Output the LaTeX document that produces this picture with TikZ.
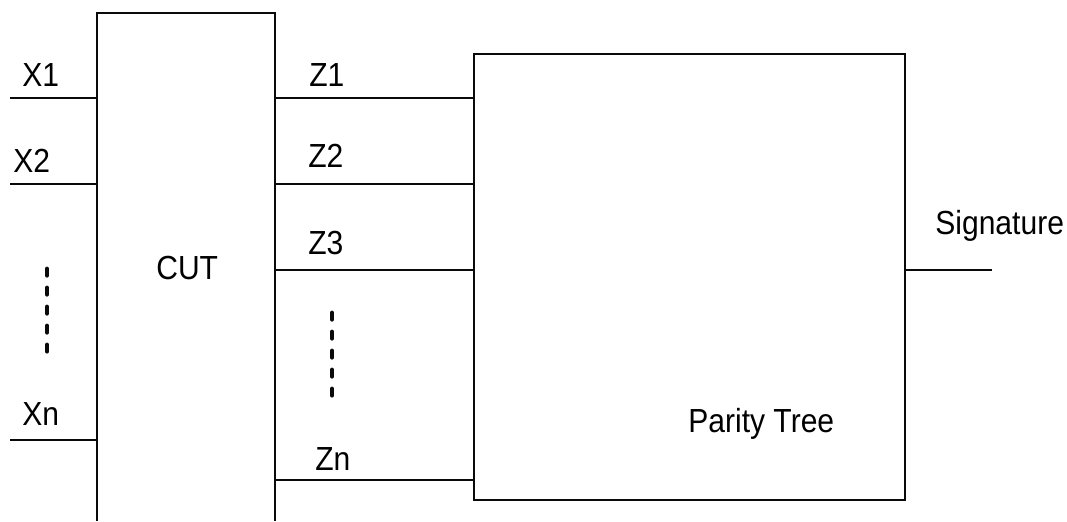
\documentclass[tikz,border=0pt]{standalone}
\usepackage{fontspec}
\setmainfont{Liberation Sans}[FakeStretch=0.9]
\usepackage{xcolor}
\usepackage{tikz}
\definecolor{figline}{RGB}{10,10,10}
\tikzset{
  blk/.style  ={draw=figline, line width=1.6pt},
  wire/.style ={draw=figline, line width=1.1pt},
  gap/.style  ={draw=figline, line width=2.7pt, line cap=round, dash pattern=on 3.6pt off 7.2pt},
  lab/.style  ={font=\fontsize{19}{22}\selectfont, inner sep=0pt, anchor=base west},
}

\begin{document}
\begin{tikzpicture}[scale=1]
  \useasboundingbox (0,0) rectangle (21.34,10.42);
  % circuit under test, open at the bottom
  \coordinate (cutsw) at (1.94,0);
  \coordinate (cutse) at (5.50,0);
  \coordinate (cutnw) at (1.94,10.16);
  \draw[blk] (cutsw) -- (cutnw) -| (cutse);
  \node[lab] (cut) at (3.12,4.82) {CUT};
  % parity tree
  \node[blk, minimum width=8.62cm, minimum height=8.92cm, inner sep=0pt] (par) at (13.79,4.88) {};
  \node[lab] (partxt) at (13.76,1.78) {Parity Tree};
  % primary inputs
  \coordinate (x1) at (0.2,8.46);
  \coordinate (x2) at (0.2,6.74);
  \coordinate (xn) at (0.2,1.62);
  \draw[wire] (x1) -- (x1 -| cutsw);
  \draw[wire] (x2) -- (x2 -| cutsw);
  \draw[wire] (xn) -- (xn -| cutsw);
  \node[lab] (x1lab) at (0.44,8.68) {X1};
  \node[lab] (x2lab) at (0.26,6.96) {X2};
  \node[lab] (xnlab) at (0.44,1.92) {Xn};
  \coordinate (xdota) at (0.94,5.04);
  \coordinate (xdotb) at (0.94,3.24);
  \draw[gap] (xdota) -- (xdotb);
  % outputs into the tree
  \coordinate (z1) at (5.50,8.46);
  \coordinate (z2) at (5.50,6.74);
  \coordinate (z3) at (5.50,5.02);
  \coordinate (zn) at (5.50,0.82);
  \draw[wire] (z1) -- (z1 -| par.west);
  \draw[wire] (z2) -- (z2 -| par.west);
  \draw[wire] (z3) -- (z3 -| par.west);
  \draw[wire] (zn) -- (zn -| par.west);
  \node[lab] (z1lab) at (6.18,8.68) {Z1};
  \node[lab] (z2lab) at (6.16,7.06) {Z2};
  \node[lab] (z3lab) at (6.16,5.32) {Z3};
  \node[lab] (znlab) at (6.30,1.02) {Zn};
  \coordinate (zdota) at (6.64,4.16);
  \coordinate (zdotb) at (6.64,2.44);
  \draw[gap] (zdota) -- (zdotb);
  % signature output
  \coordinate (sig) at (19.84,5.02);
  \draw[wire] (sig -| par.east) -- (sig);
  \node[lab] (siglab) at (18.70,5.72) {Signature};
\end{tikzpicture}
\end{document}
